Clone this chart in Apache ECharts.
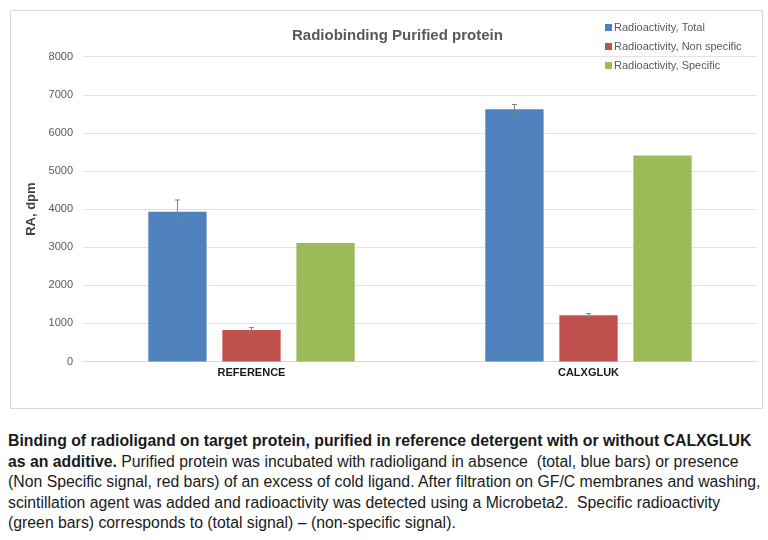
<!DOCTYPE html>
<html lang="en">
<head>
    <meta charset="UTF-8">
    <script src="https://cdn.jsdelivr.net/npm/echarts@6/dist/echarts.min.js"></script>
    <title>Radiobinding Purified protein</title>
</head>
<style>
    html, body {
        margin: 0;
        padding: 0;
        background: #fff;
    }
    #main {
        position: absolute;
        left: 0;
        top: 0;
        width: 768px;
        height: 420px;
    }
    .caption {
        position: absolute;
        left: 8px;
        top: 431px;
        font-family: "Liberation Sans", sans-serif;
        font-size: 15.8px;
        line-height: 20.5px;
        color: #1a1a1a;
        white-space: nowrap;
    }
    .caption b {
        font-weight: 700;
    }
</style>
<body>
    <div id="main"></div>
    <div class="caption">
        <b>Binding of radioligand on target protein, purified in reference detergent with or without CALXGLUK</b><br>
        <b>as an additive.</b> Purified protein was incubated with radioligand in absence&nbsp; (total, blue bars) or presence<br>
        (Non Specific signal, red bars) of an excess of cold ligand. After filtration on GF/C membranes and washing,<br>
        scintillation agent was added and radioactivity was detected using a Microbeta2.&nbsp; Specific radioactivity<br>
        (green bars) corresponds to (total signal) – (non-specific signal).
    </div>
</body>
<script>
    // data
    let categories = ['REFERENCE', 'CALXGLUK'];
    let totalVals = [3930, 6620];
    let totalErr = [310, 125];
    let nonSpecVals = [830, 1215];
    let nonSpecErr = [60, 42];
    let specVals = [3110, 5410];

    let names = ['Radioactivity, Total', 'Radioactivity, Non specific', 'Radioactivity, Specific'];
    let colors = ['#4F81BD', '#C0504D', '#9BBB59'];

    let barRatio = 0.173;
    let gapRatio = 0.27;

    // error bar drawn on top of bar number k of each group
    function errorSeries(k, vals, errs) {
        return {
            type: 'custom',
            silent: true,
            z: 5,
            data: vals.map((v, i) => [i, v, errs[i]]),
            renderItem: function (params, api) {
                let catW = api.size([1, 0])[0];
                let bw = catW * barRatio;
                let base = api.coord([api.value(0), api.value(1)]);
                let x = base[0] + (k - 1) * bw * (1 + gapRatio);
                let hi = api.coord([api.value(0), api.value(1) + api.value(2)])[1];
                let lo = api.coord([api.value(0), api.value(1) - api.value(2)])[1];
                let cap = 2.5;
                let st = { stroke: '#7f7f7f', lineWidth: 1 };
                return {
                    type: 'group',
                    children: [
                        { type: 'line', shape: { x1: x, y1: hi, x2: x, y2: lo }, style: st },
                        { type: 'line', shape: { x1: x - cap, y1: hi, x2: x + cap, y2: hi }, style: st },
                        { type: 'line', shape: { x1: x - cap, y1: lo, x2: x + cap, y2: lo }, style: st }
                    ]
                };
            }
        };
    }

    let myChart = echarts.init(document.getElementById('main'));
    let option = {
        animation: false,
        textStyle: {
            fontFamily: '"Liberation Sans", sans-serif'
        },
        graphic: [{
            type: 'rect',
            shape: { x: 10.5, y: 10.5, width: 752, height: 398 },
            style: { fill: 'none', stroke: '#d9d9d9', lineWidth: 1 },
            z: -1
        }],
        title: {
            text: 'Radiobinding Purified protein',
            left: 287,
            top: 23,
            textStyle: {
                fontSize: 15,
                fontWeight: 'bold',
                color: '#595959'
            }
        },
        legend: {
            data: names,
            orient: 'vertical',
            left: 600,
            top: 17,
            itemWidth: 7,
            itemHeight: 7,
            itemGap: 8,
            icon: 'rect',
            textStyle: {
                fontSize: 11,
                color: '#595959',
                padding: [0, 0, 0, -3]
            }
        },
        grid: {
            left: 83,
            right: 11,
            top: 56.7,
            bottom: 58.5
        },
        xAxis: {
            type: 'category',
            data: categories,
            axisTick: { show: false },
            axisLine: { lineStyle: { color: '#d9d9d9' } },
            axisLabel: {
                fontSize: 11,
                fontWeight: 'bold',
                color: '#1a1a1a',
                margin: 6
            }
        },
        yAxis: {
            type: 'value',
            min: 0,
            max: 8000,
            interval: 1000,
            name: 'RA, dpm',
            nameLocation: 'middle',
            nameGap: 45,
            nameTextStyle: {
                fontSize: 13,
                fontWeight: 'bold',
                color: '#404040'
            },
            axisLabel: {
                fontSize: 11,
                color: '#595959',
                margin: 10,
                formatter: v => String(v)
            },
            splitLine: { lineStyle: { color: '#e3e3e3' } }
        },
        series: [
            {
                name: names[0],
                type: 'bar',
                data: totalVals,
                barWidth: (barRatio * 100) + '%',
                barGap: (gapRatio * 100) + '%',
                itemStyle: { color: colors[0] }
            },
            {
                name: names[1],
                type: 'bar',
                data: nonSpecVals,
                barWidth: (barRatio * 100) + '%',
                barGap: (gapRatio * 100) + '%',
                itemStyle: { color: colors[1] }
            },
            {
                name: names[2],
                type: 'bar',
                data: specVals,
                barWidth: (barRatio * 100) + '%',
                barGap: (gapRatio * 100) + '%',
                itemStyle: { color: colors[2] }
            },
            errorSeries(0, totalVals, totalErr),
            errorSeries(1, nonSpecVals, nonSpecErr)
        ]
    };
    myChart.setOption(option);
</script>
</html>
